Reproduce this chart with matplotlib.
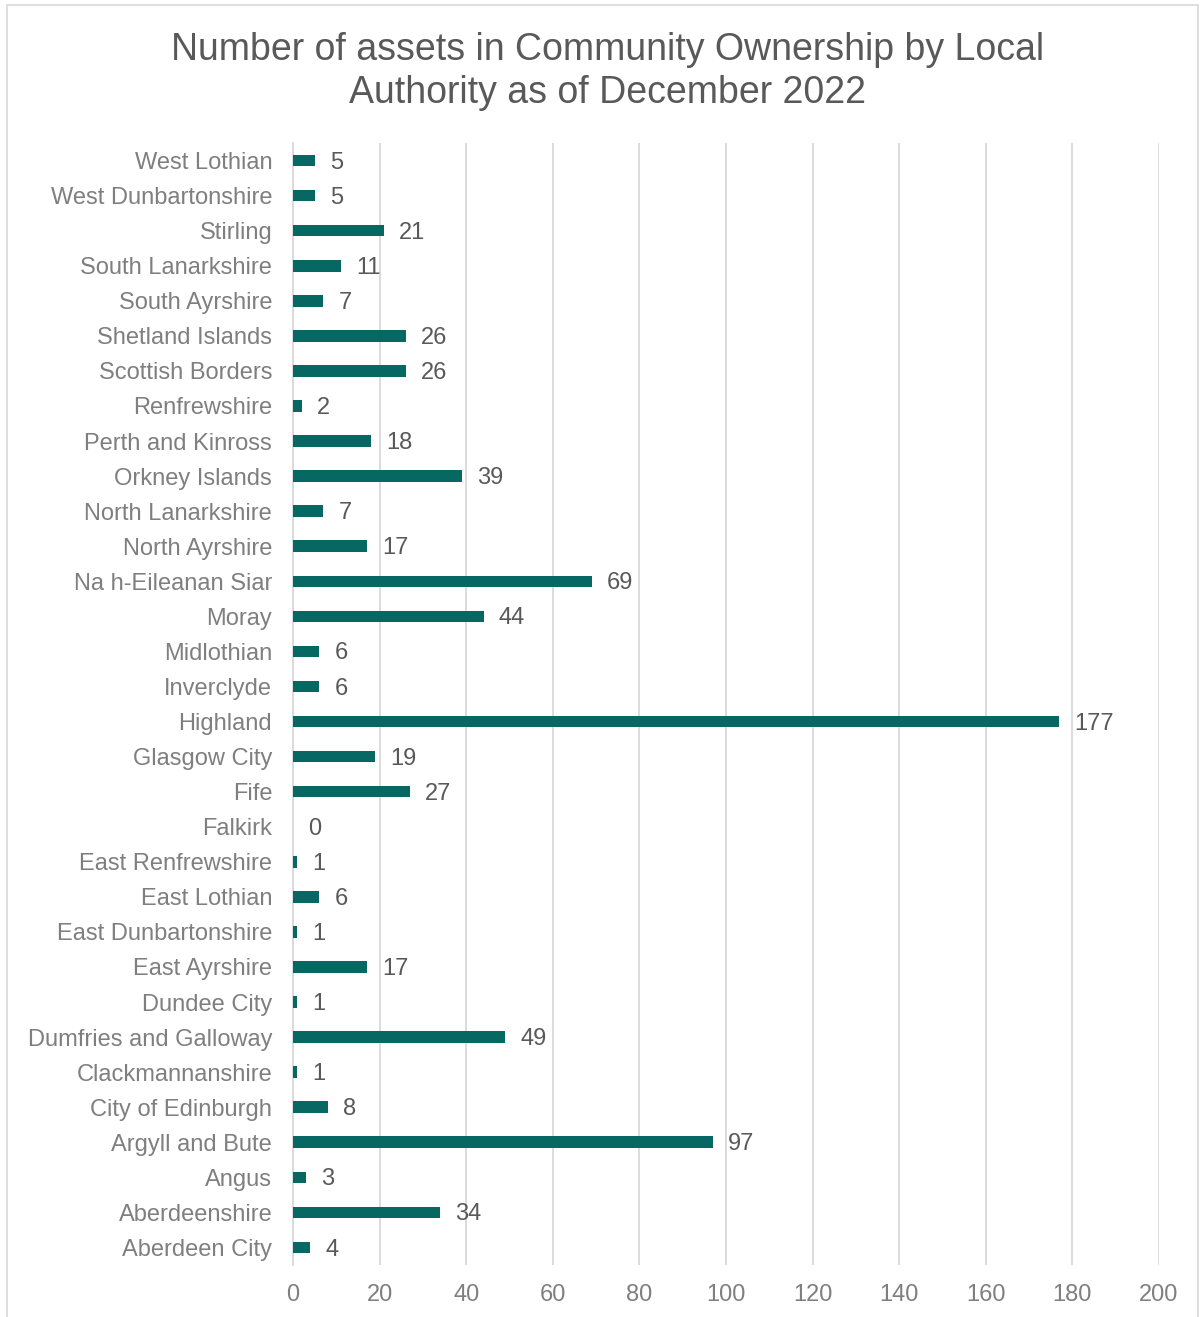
import matplotlib
matplotlib.use("Agg")
from matplotlib import pyplot as plt
from matplotlib.patches import Rectangle

plt.rcParams['font.family'] = ['Liberation Sans', 'DejaVu Sans']

# bottom to top, as drawn
areas = ["Aberdeen City", "Aberdeenshire", "Angus", "Argyll and Bute", "City of Edinburgh",
         "Clackmannanshire", "Dumfries and Galloway", "Dundee City", "East Ayrshire",
         "East Dunbartonshire", "East Lothian", "East Renfrewshire", "Falkirk", "Fife",
         "Glasgow City", "Highland", "Inverclyde", "Midlothian", "Moray", "Na h-Eileanan Siar",
         "North Ayrshire", "North Lanarkshire", "Orkney Islands", "Perth and Kinross",
         "Renfrewshire", "Scottish Borders", "Shetland Islands", "South Ayrshire",
         "South Lanarkshire", "Stirling", "West Dunbartonshire", "West Lothian"]
assets = [4, 34, 3, 97, 8, 1, 49, 1, 17, 1, 6, 1, 0, 27, 19, 177, 6, 6, 44, 69,
          17, 7, 39, 18, 2, 26, 26, 7, 11, 21, 5, 5]
xticks = list(range(0, 201, 20))

bar_col = "#076762"
txt_col = "#7f7f7f"

fig = plt.figure(figsize=(12.03, 13.17), dpi=100)
fig.patches.append(Rectangle((0.006, -0.01), 0.99, 1.006, transform=fig.transFigure,
                             fill=False, edgecolor="#d9d9d9", linewidth=1.2))
ax = fig.add_axes([0.2436, 0.0395, 0.7198, 0.8519])

pos = range(len(areas))
ax.barh(pos, assets, height=0.33, color=bar_col, zorder=3)
for i, v in enumerate(assets):
    ax.annotate(str(v), (v, i), xytext=(11, -1.5), textcoords="offset points",
                va="center", ha="left", fontsize=17, color="#595959")

ax.set_xlim(0, 200)
ax.set_ylim(-0.5, len(areas) - 0.5)
ax.set_xticks(xticks)
ax.set_yticks(list(pos))
ax.set_yticklabels(areas)
ax.tick_params(axis="both", length=0, labelsize=17, labelcolor=txt_col)
ax.tick_params(axis="y", pad=15)
ax.tick_params(axis="x", pad=14)
ax.grid(axis="x", color="#d9d9d9", linewidth=1.3, zorder=0)
for s in ["top", "right", "bottom"]:
    ax.spines[s].set_visible(False)
ax.spines["left"].set_color("#d9d9d9")
ax.spines["left"].set_linewidth(1.3)

fig.text(0.505, 0.9455, "Number of assets in Community Ownership by Local\nAuthority as of December 2022",
         ha="center", va="center", fontsize=27, color="#595959", linespacing=1.25)

fig.savefig("out.png", dpi=100)
